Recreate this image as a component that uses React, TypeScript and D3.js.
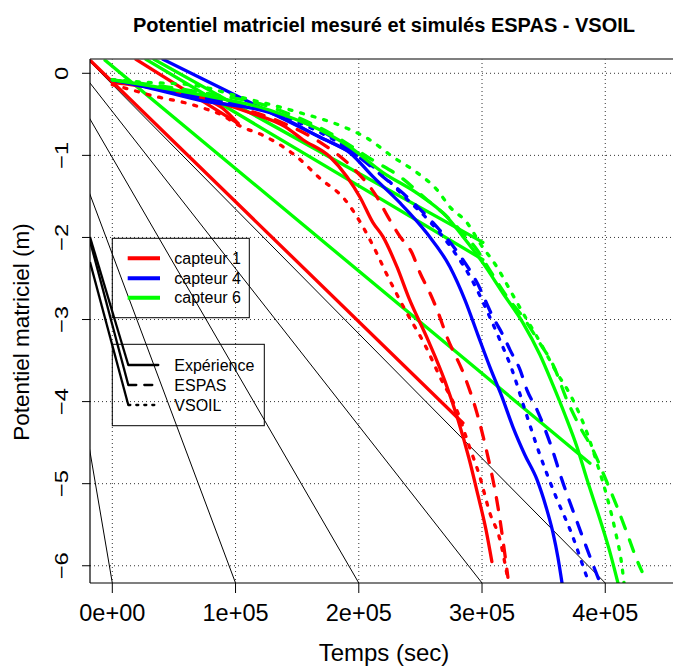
import React from "react";
import * as d3 from "d3";

type P = [number, number];

const W = 673;
const H = 670;

const title = "Potentiel matriciel mesuré et simulés ESPAS - VSOIL";
const xTitle = "Temps (sec)";
const yTitle = "Potentiel matriciel (m)";

const xTicks = [0, 100000, 200000, 300000, 400000];
const xTickLabels = ["0e+00", "1e+05", "2e+05", "3e+05", "4e+05"];
const yTicks = [0, -1, -2, -3, -4, -5, -6];
const yTickLabels = ["0", "\u22121", "\u22122", "\u22123", "\u22124", "\u22125", "\u22126"];

// capteur 1 (red)
const c1Exp: P[] = [[0,-0.11],[38700,-0.19],[71200,-0.29],[111700,-0.48],[140100,-0.65],[154700,-0.81],[176700,-1.02],[190400,-1.26],[201000,-1.51],[211500,-1.82],[219600,-1.99],[231000,-2.36],[240700,-2.74],[256200,-3.25],[269900,-3.75],[280500,-4.22],[289400,-4.69],[296700,-5.14],[303200,-5.56],[308000,-5.95]];
const c1ExpBranch: P[] = [[71200,-0.29],[89000,-0.42],[102000,-0.61]];
const c1Espas: P[] = [[0,-0.09],[46800,-0.2],[95500,-0.39],[136100,-0.59],[168500,-0.84],[192900,-1.12],[214800,-1.51],[223700,-1.75],[233500,-1.99],[243200,-2.19],[249600,-2.43],[257800,-2.68],[263500,-2.88],[271500,-3.21],[286100,-3.7],[295900,-4.14],[304000,-4.62],[312900,-5.28],[321000,-6.14]];
const c1Vsoil: P[] = [[0,-0.14],[10300,-0.18],[37100,-0.29],[56600,-0.35],[72800,-0.42],[89000,-0.51],[102000,-0.63],[125500,-0.78],[149900,-1.02],[168500,-1.28],[188800,-1.54],[202600,-1.85],[213200,-2.15],[223700,-2.48],[237500,-2.88],[253700,-3.31],[265900,-3.7],[280500,-4.14],[288600,-4.5],[298300,-4.92],[306400,-5.36],[314500,-5.68],[321000,-6.17]];

// capteur 4 (blue)
const c4Exp: P[] = [[0,-0.08],[30600,-0.18],[71200,-0.33],[128000,-0.48],[168500,-0.78],[192900,-0.97],[211500,-1.26],[233500,-1.58],[255300,-1.95],[274000,-2.36],[286100,-2.76],[296700,-3.19],[306400,-3.58],[316100,-3.94],[325100,-4.31],[334800,-4.65],[344600,-4.95],[351900,-5.28],[357600,-5.6],[361600,-5.9],[364900,-6.21]];
const c4Espas: P[] = [[0,-0.08],[71200,-0.29],[128000,-0.46],[168500,-0.69],[198500,-1.0],[219600,-1.26],[241600,-1.54],[260200,-1.82],[282100,-2.22],[295900,-2.55],[308900,-2.97],[317000,-3.19],[322700,-3.37],[330800,-3.61],[336500,-3.86],[344600,-4.1],[355100,-4.5],[365700,-4.99],[377000,-5.46],[387600,-5.89],[395800,-6.21]];
const c4Vsoil: P[] = [[0,-0.08],[71200,-0.29],[128000,-0.47],[168500,-0.72],[196900,-0.97],[217200,-1.21],[237500,-1.51],[257800,-1.81],[278100,-2.19],[291900,-2.52],[304800,-2.92],[314500,-3.25],[324300,-3.61],[334800,-4.1],[347000,-4.65],[360000,-5.16],[373000,-5.62],[384400,-6.11],[386800,-6.21]];

// capteur 6 (green)
const c6Exp: P[] = [[0,-0.08],[71200,-0.26],[128000,-0.45],[192900,-0.9],[219600,-1.21],[247200,-1.46],[271500,-1.75],[284500,-1.99],[300700,-2.31],[317000,-2.68],[333200,-3.04],[347000,-3.43],[357600,-3.8],[367300,-4.16],[377000,-4.55],[385200,-4.95],[395800,-5.44],[403900,-5.84],[410300,-6.21]];
const c6Espas: P[] = [[0,-0.08],[71200,-0.23],[128000,-0.41],[176700,-0.73],[211500,-1.06],[233500,-1.26],[255300,-1.54],[268300,-1.7],[282100,-1.91],[295900,-2.15],[306400,-2.4],[320200,-2.72],[333200,-2.97],[347000,-3.29],[357600,-3.55],[368900,-3.98],[379500,-4.31],[390100,-4.59],[398200,-4.87],[409500,-5.28],[417600,-5.6],[425700,-5.93],[429800,-6.07]];
const c6Vsoil: P[] = [[0,-0.08],[28200,-0.11],[63000,-0.14],[109300,-0.31],[149900,-0.47],[190400,-0.67],[206700,-0.79],[227800,-1.02],[247200,-1.21],[263500,-1.42],[274000,-1.63],[287800,-1.82],[298300,-2.07],[312100,-2.36],[322700,-2.64],[333200,-2.92],[344600,-3.21],[359200,-3.61],[373800,-3.98],[385200,-4.38],[393300,-4.75],[401400,-5.16],[407900,-5.56],[413600,-6.01],[415200,-6.21]];

// straight joining segments visible in the picture
const c1Jump1: P[] = [[-18100,0.16],[284500,-4.26]];
const c1Jump2: P[] = [[19200,0.17],[102000,-0.61]];
const c6Jump1: P[] = [[-5900,0.16],[387600,-4.75]];
const c6Jump2: P[] = [[33800,0.17],[300700,-2.06]];
const c6Jump3: P[] = [[27300,0.17],[300700,-2.27]];
const c4Jump1: P[] = [[41100,0.17],[198500,-1.0]];

// thin black fan lines toward the x ticks
const fanOrigin: P = [-83000, 1.124];
const fanTargets = [0, 100000, 200000, 300000, 400000];
const fanBottom = -6.21;

const sensorNames = ["capteur 1", "capteur 4", "capteur 6"];
const sensorColors = ["#ff0000", "#0000ff", "#00ff00"];
const modelNames = ["Expérience", "ESPAS", "VSOIL"];

const FONT = "'Liberation Sans', Arial, Helvetica, sans-serif";

export default function App() {
  const L = 90, R = 685, T = 59, B = 583;
  const x = d3.scaleLinear().domain([-18100, 464700]).range([L, R]);
  const y = d3.scaleLinear().domain([0.174, -6.21]).range([T, B]);
  const curve = d3.line<P>().x((d) => x(d[0])).y((d) => y(d[1])).curve(d3.curveMonotoneX);
  const straight = d3.line<P>().x((d) => x(d[0])).y((d) => y(d[1]));

  const dashed = "12,12";
  const dotted = "3,9";
  const lw = 3.3;

  const jumps: { d: P[]; c: string }[] = [
    { d: c1Jump1, c: sensorColors[0] },
    { d: c1Jump2, c: sensorColors[0] },
    { d: c6Jump1, c: sensorColors[2] },
    { d: c6Jump2, c: sensorColors[2] },
    { d: c6Jump3, c: sensorColors[2] },
    { d: c4Jump1, c: sensorColors[1] },
  ];
  const series: { d: P[]; c: string; dash?: string }[] = [
    { d: c1Exp, c: sensorColors[0] },
    { d: c1ExpBranch, c: sensorColors[0] },
    { d: c1Espas, c: sensorColors[0], dash: dashed },
    { d: c1Vsoil, c: sensorColors[0], dash: dotted },
    { d: c4Exp, c: sensorColors[1] },
    { d: c4Espas, c: sensorColors[1], dash: dashed },
    { d: c4Vsoil, c: sensorColors[1], dash: dotted },
    { d: c6Exp, c: sensorColors[2] },
    { d: c6Espas, c: sensorColors[2], dash: dashed },
    { d: c6Vsoil, c: sensorColors[2], dash: dotted },
  ];

  // legend layout
  const lg1 = { x: 112.3, y: 238.3, w: 137, h: 79.4 };
  const lg1Rows = [258.3, 278.3, 297.7];
  const lg2 = { x: 112.3, y: 344.3, w: 152, h: 81.4 };
  const lg2Rows = [365, 385, 405];
  const segX0 = 128.3, segX1 = 158.3, textX = 174.3;
  const artStartY = [237, 241, 262];
  const lgDash = [undefined, "8,8", "2,6"];

  return (
    <svg width={W} height={H} style={{ position: "absolute", left: 0, top: 0, background: "#fff" }} fontFamily={FONT}>
      <defs>
        <clipPath id="plotclip">
          <rect x={L} y={T} width={R - L} height={B - T} />
        </clipPath>
      </defs>
      <rect x={0} y={0} width={W} height={H} fill="#fff" />

      {/* grid */}
      <g stroke="#333" strokeWidth={1} strokeDasharray="1,3">
        {xTicks.map((t) => (
          <line key={"gx" + t} x1={x(t)} x2={x(t)} y1={T} y2={B} />
        ))}
        {yTicks.map((t) => (
          <line key={"gy" + t} x1={L} x2={R} y1={y(t)} y2={y(t)} />
        ))}
      </g>

      <g clipPath="url(#plotclip)">
        {fanTargets.map((t) => (
          <line
            key={"fan" + t}
            x1={x(fanOrigin[0])}
            y1={y(fanOrigin[1])}
            x2={x(t)}
            y2={y(fanBottom)}
            stroke="#000"
            strokeWidth={1}
          />
        ))}
        {artStartY.map((sy, i) => (
          <line key={"art" + i} x1={L} y1={sy} x2={segX0} y2={lg2Rows[i]} stroke="#000" strokeWidth={2.3} />
        ))}
        {jumps.map((s, i) => (
          <path key={"j" + i} d={straight(s.d) || ""} fill="none" stroke={s.c} strokeWidth={lw} strokeLinecap="round" />
        ))}
        {series.map((s, i) => (
          <path
            key={"s" + i}
            d={curve(s.d) || ""}
            fill="none"
            stroke={s.c}
            strokeWidth={lw}
            strokeDasharray={s.dash}
            strokeLinecap="round"
            strokeLinejoin="round"
          />
        ))}
      </g>

      {/* frame */}
      <line x1={L} x2={R} y1={T} y2={T} stroke="#555" strokeWidth={1.5} />
      <line x1={L} x2={L} y1={T} y2={B} stroke="#000" strokeWidth={1.2} />
      <line x1={L} x2={R} y1={B} y2={B} stroke="#000" strokeWidth={1.2} />

      {/* axes ticks */}
      {xTicks.map((t, i) => (
        <g key={"xt" + t}>
          <line x1={x(t)} x2={x(t)} y1={B} y2={B + 10} stroke="#000" strokeWidth={1} />
          <text x={x(t)} y={620.5} fontSize={23.5} textAnchor="middle" fill="#000">
            {xTickLabels[i]}
          </text>
        </g>
      ))}
      {yTicks.map((t, i) => (
        <g key={"yt" + t}>
          <line x1={L - 8} x2={L} y1={y(t)} y2={y(t)} stroke="#000" strokeWidth={1} />
          <text
            transform={`translate(67.5,${y(t)}) rotate(-90) scale(1.25,1)`}
            fontSize={19}
            textAnchor="middle"
            fill="#000"
          >
            {yTickLabels[i]}
          </text>
        </g>
      ))}

      {/* titles */}
      <text x={(L + 678) / 2} y={32} fontSize={20} fontWeight="bold" textAnchor="middle" fill="#000">
        {title}
      </text>
      <text x={(L + 678) / 2} y={661} fontSize={24} textAnchor="middle" fill="#000">
        {xTitle}
      </text>
      <text transform={`translate(29,332) rotate(-90)`} fontSize={22.5} textAnchor="middle" fill="#000">
        {yTitle}
      </text>

      {/* legend 1 */}
      <rect x={lg1.x} y={lg1.y} width={lg1.w} height={lg1.h} fill="none" stroke="#000" strokeWidth={1} />
      {sensorNames.map((n, i) => (
        <g key={"l1" + i}>
          <line x1={127.7} x2={160} y1={lg1Rows[i]} y2={lg1Rows[i]} stroke={sensorColors[i]} strokeWidth={4} />
          <text x={textX} y={lg1Rows[i]} dy="0.35em" fontSize={16} fill="#000">
            {n}
          </text>
        </g>
      ))}

      {/* legend 2 */}
      <rect x={lg2.x} y={lg2.y} width={lg2.w} height={lg2.h} fill="none" stroke="#000" strokeWidth={1} />
      {modelNames.map((n, i) => (
        <g key={"l2" + i}>
          <line
            x1={segX0}
            x2={segX1}
            y1={lg2Rows[i]}
            y2={lg2Rows[i]}
            stroke="#000"
            strokeWidth={2.3}
            strokeDasharray={lgDash[i]}
            strokeLinecap="round"
          />
          <text x={textX} y={lg2Rows[i]} dy="0.35em" fontSize={16} fill="#000">
            {n}
          </text>
        </g>
      ))}
    </svg>
  );
}
